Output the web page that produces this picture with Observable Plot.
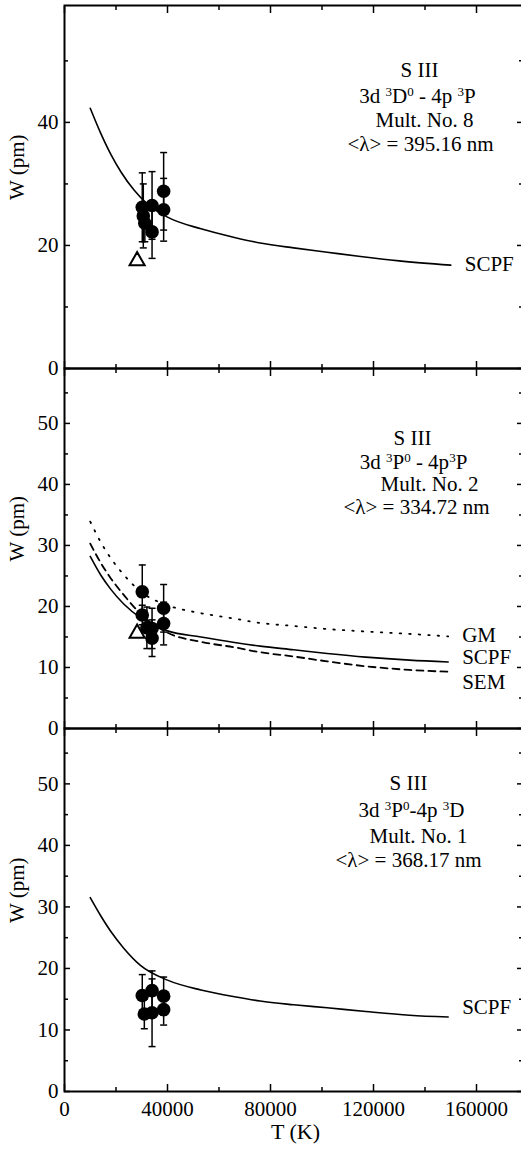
<!DOCTYPE html>
<html>
<head>
<meta charset="utf-8">
<script src="https://cdn.jsdelivr.net/npm/d3@7"></script>
<script src="https://cdn.jsdelivr.net/npm/@observablehq/plot@0.6"></script>
<style>
  html, body { margin: 0; padding: 0; background: #fff; }
  #chart { position: relative; width: 521px; height: 1149px; overflow: hidden; background: #fff; }
  #chart svg { position: absolute; left: 0; }
</style>
</head>
<body>
<div id="chart"></div>
<script>
// ---------- shared axis values ----------
const xMajor = [0, 40000, 80000, 120000, 160000];
const xMinor = [20000, 60000, 100000, 140000];
const xTitle = "T (K)";
const yTitle = "W (pm)";

// ---------- Panel 1 : S III Mult. No. 8 ----------  ("^" marks a superscript character)
const p1Notes = ["S III", "3d ^3D^0 - 4p ^3P", "Mult. No. 8", "<\u03BB> = 395.16 nm"];
const p1YMajor = [0, 20, 40];
const p1YMinor = [10, 30, 50];
const p1CurveT = [10000, 14000, 18000, 22000, 27000, 32000, 40000, 53000, 66000, 76000, 89000, 102000, 115000, 130000, 150000];
const p1Scpf   = [42.3, 38.3, 34.8, 31.9, 29.0, 26.8, 24.6, 22.7, 21.3, 20.4, 19.6, 18.9, 18.2, 17.5, 16.8];
const p1PointT = [30200, 30600, 31200, 34000, 34000, 38500, 38500];
const p1PointW = [26.2, 24.8, 23.6, 26.5, 22.2, 28.8, 25.8];
const p1PointE = [5.6, 5.2, 3.0, 5.5, 4.3, 6.3, 5.1];
const p1TriT = [28200];
const p1TriW = [17.5];

// ---------- Panel 2 : S III Mult. No. 2 ----------
const p2Notes = ["S III", "3d ^3P^0 - 4p^3P", "Mult. No. 2", "<\u03BB> = 334.72 nm"];
const p2YMajor = [0, 10, 20, 30, 40, 50];
const p2YMinor = [5, 15, 25, 35, 45, 55];
const p2CurveT = [10000, 14000, 18000, 23000, 30000, 40000, 53000, 66000, 76000, 89000, 102000, 117000, 134000, 149000];
const p2Gm     = [33.9, 30.6, 27.9, 25.2, 22.3, 20.2, 18.9, 18.0, 17.3, 16.8, 16.3, 15.9, 15.5, 15.1];
const p2Scpf   = [28.2, 25.2, 22.8, 20.4, 18.0, 16.0, 15.0, 14.1, 13.5, 12.9, 12.3, 11.7, 11.2, 10.9];
const p2Sem    = [30.3, 27.2, 24.6, 21.9, 18.6, 15.7, 14.2, 13.3, 12.5, 11.8, 11.0, 10.2, 9.6, 9.3];
const p2PointT = [30200, 30200, 32000, 34000, 34000, 38500, 38500];
const p2PointW = [22.4, 18.6, 16.5, 16.4, 14.8, 19.7, 17.2];
const p2PointE = [4.4, 1.6, 3.4, 3.3, 3.0, 3.9, 3.5];
const p2TriT = [28200];
const p2TriW = [15.6];

// ---------- Panel 3 : S III Mult. No. 1 ----------
const p3Notes = ["S III", "3d ^3P^0-4p ^3D", "Mult. No. 1", "<\u03BB> = 368.17 nm"];
const p3YMajor = [0, 10, 20, 30, 40, 50];
const p3YMinor = [5, 15, 25, 35, 45, 55];
const p3CurveT = [10000, 14000, 18000, 23000, 29500, 40000, 53000, 66000, 76000, 89000, 102000, 117000, 134000, 149000];
const p3Scpf   = [31.5, 28.6, 26.0, 23.3, 20.5, 18.1, 16.5, 15.4, 14.7, 14.1, 13.6, 13.0, 12.4, 12.1];
const p3PointT = [30200, 31000, 34000, 34000, 38500, 38500];
const p3PointW = [15.6, 12.6, 16.4, 12.8, 15.5, 13.3];
const p3PointE = [3.4, 2.4, 3.2, 5.5, 3.1, 2.5];

// ---------- helpers ----------
const FONT = "'Liberation Serif', 'Times New Roman', Times, serif";
const FS = 21;
const zip = (T, W) => T.map((t, i) => ({T: t, W: W[i]}));
const zipE = (T, W, E) => T.map((t, i) => ({T: t, W: W[i], e: E[i]}));
const capSymbol = { draw(ctx) { ctx.moveTo(-3.5, 0); ctx.lineTo(3.5, 0); } };

// turn "^x" markers into real superscript tspans
function applySuperscripts(svg) {
  svg.querySelectorAll("text").forEach(t => {
    const s = t.textContent;
    if (!s.includes("^")) return;
    const parts = s.split(/(\^.)/).filter(p => p !== "");
    while (t.firstChild) t.removeChild(t.firstChild);
    let raised = false;
    for (const p of parts) {
      const ts = document.createElementNS("http://www.w3.org/2000/svg", "tspan");
      if (p.startsWith("^")) {
        ts.textContent = p.slice(1);
        ts.setAttribute("font-size", "13");
        if (!raised) { ts.setAttribute("dy", "-7"); raised = true; }
      } else {
        ts.textContent = p;
        if (raised) { ts.setAttribute("dy", "7"); raised = false; }
      }
      t.appendChild(ts);
    }
  });
}

function panel(cfg) {
  const pts = zipE(cfg.pointT, cfg.pointW, cfg.pointE);
  const caps = pts.flatMap(d => [{T: d.T, W: d.W - d.e}, {T: d.T, W: d.W + d.e}]);
  const marks = [];
  for (const anchor of ["bottom", "top"]) {
    marks.push(Plot.axisX(xMajor, {anchor, tickSize: -7, strokeWidth: 1.5, fill: "none", label: null}));
    marks.push(Plot.axisX(xMinor, {anchor, tickSize: -4, strokeWidth: 1.5, fill: "none", label: null}));
  }
  for (const anchor of ["left", "right"]) {
    marks.push(Plot.axisY(cfg.yMajor, {anchor, tickSize: -6, strokeWidth: 1.5, fill: "none", label: null}));
    marks.push(Plot.axisY(cfg.yMinor, {anchor, tickSize: -4, strokeWidth: 1.5, fill: "none", label: null}));
  }
  marks.push(Plot.text(cfg.yMajor, {y: d => d, text: d => String(d), frameAnchor: "left", dx: -6, textAnchor: "end", fontSize: FS}));
  marks.push(Plot.text([yTitle], {frameAnchor: "left", dx: -47, dy: 13, rotate: -90, fontSize: FS}));
  for (const c of cfg.curves) {
    const data = zip(cfg.curveT, c.W);
    marks.push(Plot.line(data, {x: "T", y: "W", curve: "monotone-x", stroke: "#000", strokeWidth: c.sw || 1.6, strokeDasharray: c.dash}));
    const last = data[data.length - 1];
    marks.push(Plot.text([last], {x: "T", y: "W", text: () => c.name, dx: 14, dy: c.labelDy, textAnchor: "start", fontSize: FS}));
  }
  marks.push(Plot.ruleX(pts, {x: "T", y1: d => d.W - d.e, y2: d => d.W + d.e, stroke: "#000", strokeWidth: 1.5}));
  marks.push(Plot.dot(caps, {x: "T", y: "W", symbol: capSymbol, stroke: "#000", strokeWidth: 1.5, fill: "none"}));
  if (cfg.triT) {
    marks.push(Plot.dot(zip(cfg.triT, cfg.triW), {x: "T", y: "W", symbol: "triangle", r: 5.6, stroke: "#000", strokeWidth: 2, fill: "none"}));
  }
  marks.push(Plot.dot(pts, {x: "T", y: "W", r: 6.8, fill: "#000", stroke: "none"}));
  cfg.notes.forEach((line, i) => {
    const [cx, cy] = cfg.noteLayout[i];
    marks.push(Plot.text([line], {frameAnchor: "top-left", dx: cx - 64, dy: cy, textAnchor: "middle", lineAnchor: "middle", fontSize: FS}));
  });
  if (cfg.showX) {
    marks.push(Plot.text(xMajor, {x: d => d, text: d => String(d), frameAnchor: "bottom", lineAnchor: "top", dy: 10, fontSize: FS}));
    marks.push(Plot.text([xTitle], {frameAnchor: "bottom", dx: 2, dy: 40, lineAnchor: "middle", fontSize: 22}));
  }
  marks.push(Plot.frame({stroke: "#000", strokeWidth: 2}));

  const svg = Plot.plot({
    width: 521,
    height: cfg.marginTop + cfg.frameH + cfg.marginBottom,
    marginLeft: 64,
    marginRight: -1,
    marginTop: cfg.marginTop,
    marginBottom: cfg.marginBottom,
    x: {domain: [0, 177860]},
    y: {domain: [0, 59]},
    style: {fontFamily: FONT, fontSize: FS + "px", background: "transparent", overflow: "visible", color: "#000"},
    marks
  });
  applySuperscripts(svg);
  svg.style.top = cfg.top + "px";
  return svg;
}

const chart = document.getElementById("chart");
chart.appendChild(panel({
  top: 0, marginTop: 5, frameH: 363, marginBottom: 10,
  yMajor: p1YMajor, yMinor: p1YMinor,
  curveT: p1CurveT,
  curves: [{name: "SCPF", W: p1Scpf, labelDy: -1}],
  pointT: p1PointT, pointW: p1PointW, pointE: p1PointE,
  triT: p1TriT, triW: p1TriW,
  notes: p1Notes,
  noteLayout: [[419, 65], [417, 91], [424, 115], [420, 139]]
}));
chart.appendChild(panel({
  top: 358, marginTop: 10, frameH: 360, marginBottom: 10,
  yMajor: p2YMajor, yMinor: p2YMinor,
  curveT: p2CurveT,
  curves: [
    {name: "GM", W: p2Gm, dash: "1.5,8", sw: 1.8, labelDy: -1},
    {name: "SCPF", W: p2Scpf, labelDy: -5},
    {name: "SEM", W: p2Sem, dash: "7,5", sw: 1.8, labelDy: 11}
  ],
  pointT: p2PointT, pointW: p2PointW, pointE: p2PointE,
  triT: p2TriT, triW: p2TriW,
  notes: p2Notes,
  noteLayout: [[412, 70], [413, 93.5], [429, 116], [416, 139]]
}));
chart.appendChild(panel({
  top: 718, marginTop: 10, frameH: 363, marginBottom: 58,
  yMajor: p3YMajor, yMinor: p3YMinor,
  curveT: p3CurveT,
  curves: [{name: "SCPF", W: p3Scpf, labelDy: -9.5}],
  pointT: p3PointT, pointW: p3PointW, pointE: p3PointE,
  notes: p3Notes,
  noteLayout: [[408, 55], [411, 82], [418, 108], [408, 132]],
  showX: true
}));
</script>
</body>
</html>
